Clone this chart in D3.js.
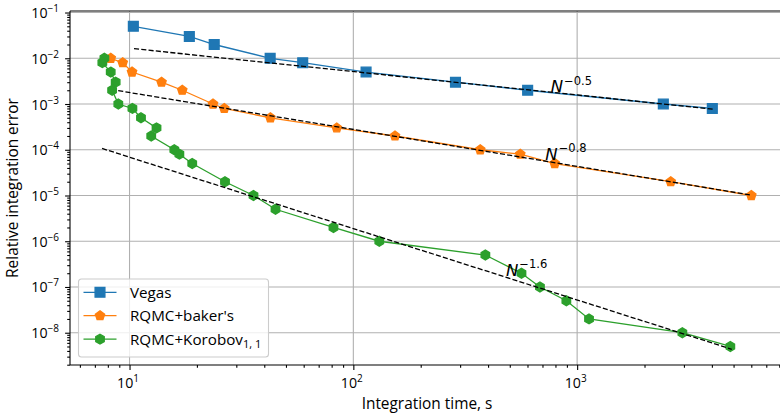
<!DOCTYPE html>
<html>
<head>
<meta charset="utf-8">
<script src="https://cdn.jsdelivr.net/npm/d3@7"></script>
<style>
  body { margin: 0; background: #fff; }
  text { font-family: "Open Sans", sans-serif; fill: #000; }
</style>
</head>
<body>
<svg id="chart" width="780" height="415"></svg>
<script>
// Vegas
const vegasTime = [10.4, 18.5, 23.9, 42.5, 59.4, 114, 286, 601, 2427, 4018]
const vegasError = [0.05, 0.03, 0.02, 0.01, 0.008, 0.005, 0.003, 0.002, 0.001, 0.0008]

// RQMC + baker's transform
const bakerTime = [8.24, 9.32, 10.26, 13.9, 17.2, 23.6, 26.5, 42.6, 84.3, 153.5, 369, 557, 794, 2619, 6000]
const bakerError = [0.01, 0.008, 0.005, 0.003, 0.002, 0.001, 0.0008, 0.0005, 0.0003, 0.0002, 1e-4, 8e-5, 5e-5, 2e-5, 1e-5]

// RQMC + Korobov periodization
const korobovTime = [7.72, 7.56, 8.24, 8.67, 8.36, 8.91, 10.3, 11.25, 13.2, 12.5, 15.85, 16.7, 19.06, 26.7, 35.8,
  44.9, 81.5, 130.6, 389, 564, 682, 895, 1130, 2952, 4836]
const korobovError = [0.01, 0.008, 0.005, 0.003, 0.002, 0.001, 0.0008, 0.0005, 0.0003, 0.0002, 1e-4, 8e-5, 5e-5, 2e-5, 1e-5,
  5e-6, 2e-6, 1e-6, 5e-7, 2e-7, 1e-7, 5e-8, 2e-8, 1e-8, 5e-9]

// reference slopes, end points
const fitVegas = [[10.47, 0.0162], [4060, 7.7e-4]]
const fitBaker = [[8.9, 0.00196], [6000, 1.02e-5]]
const fitKorobov = [[7.54, 1.067e-4], [4909, 4.35e-9]]
const fitLabels = ["−0.5", "−0.8", "−1.6"]
const fitLabelX = [762, 721, 481]
const fitLabelY = [0.00183, 6e-5, 1.75e-7]

const xTickValues = [10, 100, 1000]
const xTickExp = ["1", "2", "3"]
const yTickValues = [1e-1, 1e-2, 1e-3, 1e-4, 1e-5, 1e-6, 1e-7, 1e-8]
const yTickExp = ["−1", "−2", "−3", "−4", "−5", "−6", "−7", "−8"]

const seriesNames = ["Vegas", "RQMC+baker's", "RQMC+Korobov"]
const xDomain = [5.42, 8400]
const yDomain = [1.97e-9, 0.108]

const colors = ["#1f77b4", "#ff7f0e", "#2ca02c"]

const svg = d3.select("#chart")
const plot = { left: 70, top: 11, right: 784, bottom: 365 }

const x = d3.scaleLog().domain(xDomain).range([plot.left, plot.right])
const y = d3.scaleLog().domain(yDomain).range([plot.bottom, plot.top])

// grid
const grid = svg.append("g")
grid.selectAll(".gx").data(xTickValues).enter().append("line")
  .attr("x1", d => x(d)).attr("x2", d => x(d))
  .attr("y1", plot.top).attr("y2", plot.bottom)
  .attr("stroke", "#b0b0b0").attr("stroke-width", 1.1)
grid.selectAll(".gy").data(yTickValues).enter().append("line")
  .attr("x1", plot.left).attr("x2", plot.right)
  .attr("y1", d => y(d)).attr("y2", d => y(d))
  .attr("stroke", "#b0b0b0").attr("stroke-width", 1.1)

// axes
const xMinor = x.ticks().filter(d => !xTickValues.some(v => Math.abs(v - d) < 1e-9))
const yMinor = y.ticks().filter(d => !yTickValues.some(v => Math.abs(v / d - 1) < 1e-6))

const styleAxis = g => {
  g.select(".domain").remove()
  g.selectAll(".tick line").attr("stroke", "#000").attr("stroke-width", 1.1)
}

svg.append("g").attr("transform", `translate(0,${plot.bottom})`)
  .call(d3.axisBottom(x).tickValues(xMinor).tickSize(2.8).tickFormat(""))
  .call(styleAxis)
const xAxis = svg.append("g").attr("transform", `translate(0,${plot.bottom})`)
  .call(d3.axisBottom(x).tickValues(xTickValues).tickSize(4.9).tickFormat(""))
  .call(styleAxis)
xAxis.selectAll(".tick").each(function (d, i) {
  const t = d3.select(this).append("text")
    .attr("y", 23).attr("x", -2).attr("text-anchor", "middle")
    .attr("font-size", 14.2)
  t.append("tspan").text("10")
  t.append("tspan").attr("dy", -6).attr("font-size", 10).text(xTickExp[i])
})

svg.append("g").attr("transform", `translate(${plot.left},0)`)
  .call(d3.axisLeft(y).tickValues(yMinor).tickSize(2.8).tickFormat(""))
  .call(styleAxis)
const yAxis = svg.append("g").attr("transform", `translate(${plot.left},0)`)
  .call(d3.axisLeft(y).tickValues(yTickValues).tickSize(4.9).tickFormat(""))
  .call(styleAxis)
yAxis.selectAll(".tick").each(function (d, i) {
  const t = d3.select(this).append("text")
    .attr("x", -11).attr("y", 5).attr("text-anchor", "end")
    .attr("font-size", 14.2)
  t.append("tspan").text("10")
  t.append("tspan").attr("dy", -6).attr("font-size", 10).text(yTickExp[i])
})

// spines
svg.append("line").attr("x1", plot.left).attr("x2", plot.left).attr("y1", plot.top).attr("y2", plot.bottom)
  .attr("stroke", "#000").attr("stroke-width", 1.1)
svg.append("line").attr("x1", plot.left).attr("x2", plot.right).attr("y1", plot.bottom).attr("y2", plot.bottom)
  .attr("stroke", "#000").attr("stroke-width", 1.1)
svg.append("line").attr("x1", plot.left).attr("x2", plot.right).attr("y1", plot.top).attr("y2", plot.top)
  .attr("stroke", "#000").attr("stroke-width", 1.1)
svg.append("line").attr("x1", plot.right).attr("x2", plot.right).attr("y1", plot.top).attr("y2", plot.bottom)
  .attr("stroke", "#000").attr("stroke-width", 1.1)

// markers
function polygonPath(n, r, rot) {
  const p = d3.path()
  for (let k = 0; k < n; k++) {
    const a = rot + k * 2 * Math.PI / n
    const px = r * Math.sin(a), py = -r * Math.cos(a)
    if (k === 0) p.moveTo(px, py); else p.lineTo(px, py)
  }
  p.closePath()
  return p.toString()
}
const markerPaths = [
  polygonPath(4, 9.73 / Math.SQRT2, Math.PI / 4),
  polygonPath(5, 4.86, 0),
  polygonPath(6, 4.86, 0)
]

const clip = svg.append("clipPath").attr("id", "plotclip").append("rect")
  .attr("x", plot.left).attr("y", plot.top).attr("width", plot.right - plot.left).attr("height", plot.bottom - plot.top)

const series = [
  vegasTime.map((t, i) => [t, vegasError[i]]),
  bakerTime.map((t, i) => [t, bakerError[i]]),
  korobovTime.map((t, i) => [t, korobovError[i]])
]

const line = d3.line().x(d => x(d[0])).y(d => y(d[1]))
const dataLayer = svg.append("g").attr("clip-path", "url(#plotclip)")

series.forEach((pts, s) => {
  dataLayer.append("path").datum(pts)
    .attr("fill", "none").attr("stroke", colors[s]).attr("stroke-width", 1.3)
    .attr("d", line)
  dataLayer.selectAll(".m" + s).data(pts).enter().append("path")
    .attr("transform", d => `translate(${x(d[0])},${y(d[1])})`)
    .attr("d", markerPaths[s])
    .attr("fill", colors[s]).attr("stroke", colors[s]).attr("stroke-width", 1.39)
})

// reference slopes
;[fitVegas, fitBaker, fitKorobov].forEach(f => {
  dataLayer.append("path").datum(f)
    .attr("fill", "none").attr("stroke", "#000").attr("stroke-width", 1.3)
    .attr("stroke-dasharray", "5.1,2.2")
    .attr("d", line)
})

fitLabels.forEach((lab, i) => {
  const t = svg.append("text")
    .attr("x", x(fitLabelX[i])).attr("y", y(fitLabelY[i]))
    .attr("font-family", "DejaVu Sans").attr("font-size", 16.5)
  t.append("tspan").attr("font-style", "italic").attr("font-family", "DejaVu Sans").text("N")
  t.append("tspan").attr("dy", -7.5).attr("dx", 1).attr("font-size", 11.5).attr("font-family", "DejaVu Sans").text(lab)
})

// axis labels
svg.append("text").attr("x", (plot.left + plot.right) / 2).attr("y", 409)
  .attr("text-anchor", "middle").attr("font-size", 15.4)
  .text("Integration time, s")
svg.append("text").attr("transform", `translate(18,${(plot.top + plot.bottom) / 2}) rotate(-90)`)
  .attr("text-anchor", "middle").attr("font-size", 15.4)
  .text("Relative integration error")

// legend
const legend = svg.append("g").attr("transform", "translate(78.5,279)")
legend.append("rect").attr("width", 190).attr("height", 78).attr("rx", 3)
  .attr("fill", "#fff").attr("fill-opacity", 0.8).attr("stroke", "#cccccc").attr("stroke-width", 1.1)
seriesNames.forEach((name, i) => {
  const row = legend.append("g").attr("transform", `translate(0,${13.3 + i * 23.4})`)
  row.append("line").attr("x1", 5).attr("x2", 38).attr("stroke", colors[i]).attr("stroke-width", 1.3)
  row.append("path").attr("transform", "translate(21.5,0)").attr("d", markerPaths[i])
    .attr("fill", colors[i]).attr("stroke", colors[i]).attr("stroke-width", 1.39)
  const t = row.append("text").attr("x", 51.5).attr("y", 5.5).attr("font-size", 15.2).text(name)
  if (i === 2) {
    t.append("tspan").attr("dy", 3.5).attr("font-size", 11).text("1, 1")
  }
})
</script>
</body>
</html>
